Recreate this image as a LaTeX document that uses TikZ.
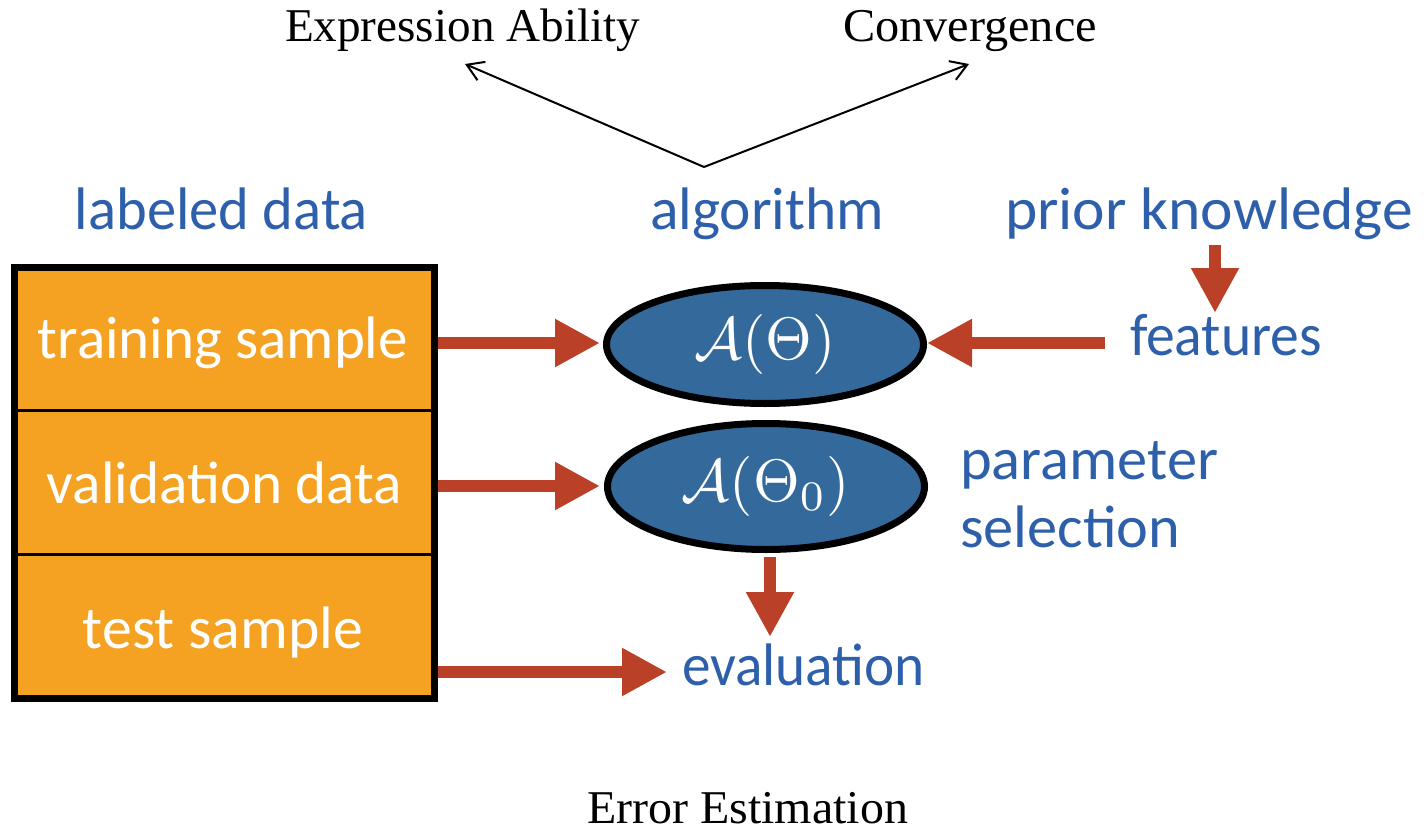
\documentclass[tikz,border=0pt]{standalone}
\usepackage{fontspec}
\usepackage{graphicx}
\setmainfont{Liberation Serif}
\newfontfamily\gillfont{Carlito}
\usetikzlibrary{arrows.meta,shapes.geometric,calc}
\definecolor{myblue}{RGB}{45,95,170}
\definecolor{ellfill}{RGB}{51,105,155}
\definecolor{myred}{RGB}{186,64,40}
\definecolor{myorange}{RGB}{245,162,35}
\newcommand{\fitw}[2]{\resizebox{#1}{\height}{#2}}
\begin{document}
\begin{tikzpicture}[x=1pt,y=-1pt,
  bluetxt/.style={text=myblue, inner sep=0pt, anchor=base, font=\gillfont\fontsize{60}{60}\selectfont},
  whitetxt/.style={text=white, inner sep=0pt, anchor=base, font=\gillfont\fontsize{60}{60}\selectfont},
  seriftxt/.style={text=black, inner sep=0pt, anchor=base, font=\fontsize{47}{47}\selectfont},
  part/.style={draw=black, line width=3pt, fill=myorange, minimum width=420pt, inner sep=0pt},
  ell/.style={ellipse, draw=black, line width=7pt, fill=ellfill, text=white, inner sep=0pt, minimum width=317pt},
  redarr/.style={draw=myred, line width=12pt, -{Triangle[length=45pt,width=45pt]}},
  blackarr/.style={draw=black, line width=2pt, -{Straight Barb[length=16pt,width=20pt]}}
]
\useasboundingbox (0,0) rectangle (1424,832);
\fill[white] (0,0) rectangle (1424,832);

% data box
\node[part, minimum height=143pt] (train) at (224.5,338.5) {};
\node[part, minimum height=144pt] (valid) at (224.5,482) {};
\node[part, minimum height=144pt] (test) at (224.5,626) {};
\node[draw=black, line width=7pt, minimum width=420pt, minimum height=431pt, inner sep=0pt] (frame) at (224.5,482.5) {};

\node[whitetxt] (traintxt) at (223,358) {\fitw{370pt}{training sample}};
\node[whitetxt] (validtxt) at (224.5,503) {\fitw{355pt}{validation data}};
\node[whitetxt] (testtxt) at (223,648) {\fitw{280pt}{test sample}};

% labels
\node[bluetxt] (labeled) at (221.5,229) {\fitw{293pt}{labeled data}};
\node[bluetxt] (algo) at (767,229) {\fitw{234pt}{algorithm}};
\node[bluetxt] (prior) at (1209,229) {\fitw{408pt}{prior knowledge}};
\node[bluetxt] (feat) at (1226,355) {\fitw{192pt}{features}};
\node[bluetxt, anchor=base west] (param) at (960,479) {\fitw{258pt}{parameter}};
\node[bluetxt, anchor=base west] (sel) at (960,547) {\fitw{220pt}{selection}};
\node[bluetxt] (eval) at (803.5,685) {\fitw{243pt}{evaluation}};

% ellipses
\node[ell, minimum height=118pt] (e1) at (765,344.5) {\scalebox{6}{$\mathcal{A}(\Theta)$}};
\node[ell, minimum height=126pt] (e2) at (766,486.5) {\scalebox{6}{$\mathcal{A}(\Theta_0)$}};

% serif texts
\node[seriftxt] (expr) at (462.5,42) {\fitw{355pt}{Expression Ability}};
\node[seriftxt] (conv) at (970,42) {\fitw{254pt}{Convergence}};
\node[seriftxt] (err) at (747.5,823) {\fitw{321pt}{Error Estimation}};

% black arrows
\coordinate (apex) at (704,167);
\coordinate (extip) at (465,64);
\coordinate (cvtip) at (969,64);
\draw[blackarr] (apex) -- (extip);
\draw[blackarr] (apex) -- (cvtip);

% red arrows
\coordinate (t1) at (438,343);
\coordinate (h1) at (600,343);
\coordinate (t2) at (438,486);
\coordinate (h2) at (600,486);
\coordinate (t3) at (438,672);
\coordinate (h3) at (667,672);
\coordinate (t4) at (1105,343);
\coordinate (h4) at (927,343);
\coordinate (t5) at (1215,245);
\coordinate (h5) at (1215,313);
\coordinate (t6) at (770,557);
\coordinate (h6) at (770,637);
\draw[redarr] (t1) -- (h1);
\draw[redarr] (t2) -- (h2);
\draw[redarr] (t3) -- (h3);
\draw[redarr] (t4) -- (h4);
\draw[redarr] (t5) -- (h5);
\draw[redarr] (t6) -- (h6);
\end{tikzpicture}
\end{document}
